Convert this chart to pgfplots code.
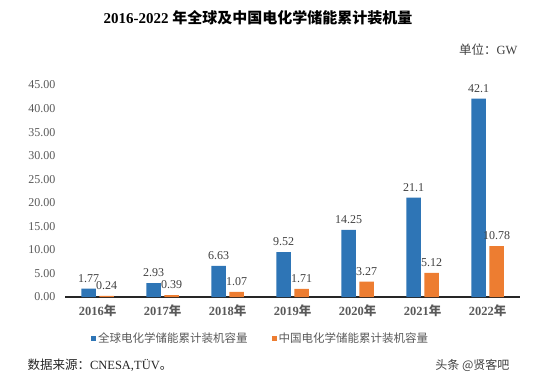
\documentclass[border=0pt]{standalone}
\usepackage{fontspec}
\usepackage{pgfplots}
\usepackage{pgfplotstable}
\pgfplotsset{compat=1.18}
\setmainfont{Liberation Serif}
\newfontfamily\cjk{Noto Sans CJK SC}
\definecolor{cblue}{HTML}{2E75B6}
\definecolor{corange}{HTML}{ED7D31}
\definecolor{tgray}{HTML}{595959}
\definecolor{lgray}{HTML}{404040}
\pgfplotstableread{
x g gl c cl
0 1.77 1.77 0.24 0.24
1 2.93 2.93 0.39 0.39
2 6.63 6.63 1.07 1.07
3 9.52 9.52 1.71 1.71
4 14.25 14.25 3.27 3.27
5 21.1 21.1 5.12 5.12
6 42.1 42.1 10.78 10.78
}\data
\begin{document}
\begin{tikzpicture}[x=1bp,y=1bp]
\path (0,0) rectangle (555,382);
\begin{axis}[
  at={(65bp,85bp)}, anchor=south west,
  scale only axis, width=455bp, height=212bp,
  ybar=3.5bp, bar width=14.5bp,
  xmin=-0.5, xmax=6.5, ymin=0, ymax=45,
  xtick=data,
  xticklabels={2016{\cjk 年},2017{\cjk 年},2018{\cjk 年},2019{\cjk 年},2020{\cjk 年},2021{\cjk 年},2022{\cjk 年}},
  xticklabel style={font=\fontsize{12.5bp}{14bp}\selectfont\bfseries, text=tgray},
  ytick={0,5,...,45},
  yticklabel style={font=\fontsize{12bp}{14bp}\selectfont, text=tgray},
  /pgf/number format/assume math mode=true,
  /pgf/number format/fixed, /pgf/number format/fixed zerofill, /pgf/number format/precision=2,
  axis x line*=bottom, axis y line*=left,
  x axis line style={draw=black!85, line width=1.3bp},
  y axis line style={draw=none},
  tick style={draw=none},
  xtick pos=bottom,
  yticklabel shift=6bp,
  point meta=explicit symbolic,
  nodes near coords={\pgfplotspointmeta},
  nodes near coords style={font=\fontsize{12bp}{14bp}\selectfont, text=lgray, inner sep=2bp, yshift=4bp},
  legend columns=2,
  legend style={at={(axis description cs:0.43,-0.195)}, anchor=center, draw=none, fill=none,
    font=\fontsize{11.5bp}{13bp}\selectfont\cjk, text=tgray,
    /tikz/every even column/.append style={column sep=22bp}},
]
\addplot[fill=cblue, draw=none, legend image code/.code={\fill[cblue] (0bp,-2.5bp) rectangle (5bp,2.5bp);}] table[x=x, y=g, meta=gl] {\data};
\addplot[fill=corange, draw=none, legend image code/.code={\fill[corange] (0bp,-2.5bp) rectangle (5bp,2.5bp);}] table[x=x, y=c, meta=cl] {\data};
\legend{全球电化学储能累计装机容量, 中国电化学储能累计装机容量}
\end{axis}
\node[font=\fontsize{15bp}{17bp}\selectfont\bfseries] at (258,364) {2016-2022 {\cjk 年全球及中国电化学储能累计装机量}};
\node[anchor=east, font=\fontsize{12.5bp}{14bp}\selectfont, text=lgray] at (521,332) {{\cjk 单位：}GW};
\node[anchor=west, font=\fontsize{12.5bp}{14bp}\selectfont, text=black!85] at (24,17) {{\cjk 数据来源：}CNESA,TÜV{\cjk 。}};
\node[anchor=east, font=\fontsize{12bp}{14bp}\selectfont\cjk, text=lgray] at (513,17) {头条 @贤客吧};
\end{tikzpicture}
\end{document}
